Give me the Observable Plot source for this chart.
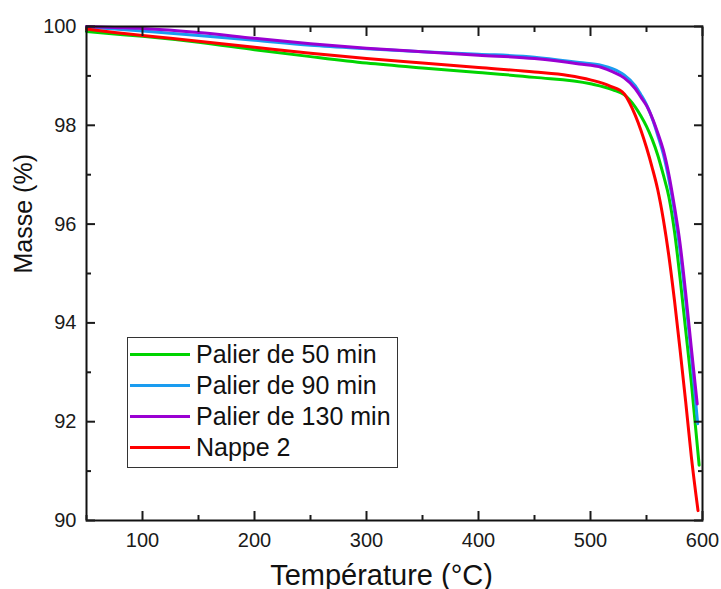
<!DOCTYPE html>
<html><head><meta charset="utf-8">
<script src="https://cdn.jsdelivr.net/npm/d3@7"></script>
<script src="https://cdn.jsdelivr.net/npm/@observablehq/plot@0.6"></script>
<style>
html,body{margin:0;padding:0;background:#fff;}
#wrap{position:relative;width:721px;height:589px;overflow:hidden;font-family:"Liberation Sans",Arial,sans-serif;}
#legend{position:absolute;left:127px;top:337px;width:269px;height:128px;border:1px solid #333;background:#fff;padding-top:1px;box-sizing:content-box;}
.row{display:flex;align-items:center;height:31px;}
.sw{width:60px;height:3px;margin-left:2px;}
.lab{margin-left:6px;font-size:25px;color:#111;white-space:nowrap;line-height:31px;}
</style></head>
<body><div id="wrap"><div id="chart"></div><div id="legend"></div></div>
<script>
// Palier de 50 min
const t50 = [50, 75, 100, 150, 200, 250, 300, 350, 400, 450, 500, 520, 530, 540, 545, 550, 555, 560, 565, 570, 575, 580, 585, 590, 597];
const m50 = [99.90, 99.85, 99.80, 99.68, 99.53, 99.39, 99.26, 99.16, 99.07, 98.97, 98.84, 98.72, 98.62, 98.37, 98.19, 97.98, 97.72, 97.40, 97.00, 96.55, 95.85, 94.90, 93.85, 92.80, 91.12];
// Palier de 90 min
const t90 = [50, 75, 100, 150, 200, 250, 300, 350, 400, 450, 490, 510, 520, 530, 540, 545, 550, 556, 560, 565, 570, 575, 580, 585, 590, 595.7];
const m90 = [99.99, 99.95, 99.91, 99.82, 99.72, 99.62, 99.55, 99.49, 99.44, 99.38, 99.27, 99.21, 99.14, 99.02, 98.80, 98.62, 98.42, 98.08, 97.80, 97.42, 96.90, 96.25, 95.45, 94.45, 93.35, 91.96];
// Palier de 130 min
const t130 = [50, 75, 100, 150, 200, 250, 300, 350, 400, 450, 490, 510, 520, 530, 540, 545, 550, 556, 560, 565, 570, 575, 580, 585, 590, 595.3];
const m130 = [100.00, 99.98, 99.96, 99.88, 99.76, 99.65, 99.56, 99.49, 99.42, 99.35, 99.24, 99.17, 99.08, 98.96, 98.74, 98.57, 98.40, 98.10, 97.85, 97.50, 97.00, 96.35, 95.60, 94.60, 93.50, 92.36];
// Nappe 2
const tN = [50, 75, 100, 150, 200, 250, 300, 350, 400, 450, 480, 500, 518, 530, 535, 540, 545, 550, 555, 560, 565, 570, 575, 580, 585, 590, 596];
const mN = [99.95, 99.88, 99.82, 99.70, 99.58, 99.46, 99.35, 99.26, 99.17, 99.08, 99.01, 98.92, 98.79, 98.64, 98.45, 98.20, 97.90, 97.55, 97.15, 96.70, 96.10, 95.35, 94.45, 93.45, 92.40, 91.30, 90.20];

const seriesNames = ["Palier de 50 min", "Palier de 90 min", "Palier de 130 min", "Nappe 2"];
const seriesColors = ["#00D400", "#1A9CF0", "#9A00D2", "#FF0000"];
const seriesT = [t50, t90, t130, tN];
const seriesM = [m50, m90, m130, mN];

const xMajor = [100, 200, 300, 400, 500, 600];
const xMinor = [50, 150, 250, 350, 450, 550];
const yMajor = [90, 92, 94, 96, 98, 100];
const yMinor = [91, 93, 95, 97, 99];
const xTitle = "Température (°C)";
const yTitle = "Masse (%)";

const rows = [];
seriesNames.forEach((s, i) => seriesT[i].forEach((t, j) => rows.push({series: s, T: t, m: seriesM[i][j]})));

const font = "Liberation Sans, Arial, sans-serif";
const blank = () => "";
const chart = Plot.plot({
  width: 721, height: 589,
  marginLeft: 86, marginRight: 19, marginTop: 26, marginBottom: 69,
  x: {domain: [50, 600]},
  y: {domain: [90, 100]},
  color: {domain: seriesNames, range: seriesColors},
  style: {fontFamily: font, fontSize: "20px", color: "#1a1a1a", background: "white"},
  marks: [
    ...seriesNames.map(s => Plot.line(rows.filter(r => r.series === s), {x: "T", y: "m", stroke: "series", strokeWidth: 3, curve: "monotone-x"})),
    Plot.frame({stroke: "#111", strokeWidth: 2}),
    Plot.axisX(xMajor, {anchor: "bottom", tickSize: 0, tickPadding: 12, label: null, fontSize: 20}),
    Plot.axisY(yMajor, {anchor: "left", tickSize: 0, tickPadding: 10, label: null, fontSize: 20}),
    Plot.axisX(xMajor, {anchor: "bottom", tickSize: -9, tickFormat: blank, label: null, strokeWidth: 2}),
    Plot.axisX(xMinor, {anchor: "bottom", tickSize: -5, tickFormat: blank, label: null, strokeWidth: 2}),
    Plot.axisX(xMajor, {anchor: "top", tickSize: -9, tickFormat: blank, label: null, strokeWidth: 2}),
    Plot.axisX(xMinor, {anchor: "top", tickSize: -5, tickFormat: blank, label: null, strokeWidth: 2}),
    Plot.axisY(yMajor, {anchor: "left", tickSize: -9, tickFormat: blank, label: null, strokeWidth: 2}),
    Plot.axisY(yMinor, {anchor: "left", tickSize: -5, tickFormat: blank, label: null, strokeWidth: 2}),
    Plot.axisY(yMajor, {anchor: "right", tickSize: -9, tickFormat: blank, label: null, strokeWidth: 2}),
    Plot.axisY(yMinor, {anchor: "right", tickSize: -5, tickFormat: blank, label: null, strokeWidth: 2}),
    Plot.text([yTitle], {text: d => d, frameAnchor: "left", dx: -63, rotate: -90, fontSize: 25, fill: "#111"}),
    Plot.text([xTitle], {text: d => d, frameAnchor: "bottom", dx: -13, dy: 64, fontSize: 29, fill: "#111"})
  ]
});
document.getElementById("chart").appendChild(chart);

const leg = document.getElementById("legend");
seriesNames.forEach((s, i) => {
  const r = document.createElement("div");
  r.className = "row";
  r.innerHTML = `<div class="sw" style="background:${seriesColors[i]}"></div><div class="lab">${s}</div>`;
  leg.appendChild(r);
});
</script>
</body></html>
